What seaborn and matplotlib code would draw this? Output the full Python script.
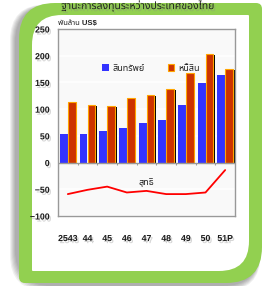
import numpy as np
import pandas as pd
import matplotlib
matplotlib.use('Agg')
import matplotlib.pyplot as plt
import matplotlib.transforms as mtransforms
import matplotlib.patheffects as pe
from matplotlib.patches import FancyBboxPatch, Rectangle, Patch
import seaborn as sns

# values (billion US$)
years = ['2543', '44', '45', '46', '47', '48', '49', '50', '51P']
assets = [54, 54, 59, 64, 74, 79, 107, 149, 163]
liabilities = [114, 107, 105, 120, 127, 138, 167, 204, 176]
net = [-59, -51, -45, -56, -53, -59, -59, -56, -14]
series_names = ['สินทรัพย์', 'หนี้สิน']

BLUE = '#3333FF'
RED = '#CC3300'
EDGE = '#FFA500'
GREEN = '#92D050'
GRAY = '#999999'

sns.set_theme(style='white')
plt.rcParams['font.family'] = ['Liberation Sans', 'Noto Sans Thai', 'DejaVu Sans']

df = pd.DataFrame({
    'year': years * 2,
    'series': [series_names[0]] * len(years) + [series_names[1]] * len(years),
    'value': assets + liabilities,
})

fig = plt.figure(figsize=(2.71, 2.86), dpi=100)
fig.patch.set_facecolor('white')

# background frame, drawn in pixel units
bg = fig.add_axes([0, 0, 1, 1])
bg.set_xlim(0, 271)
bg.set_ylim(286, 0)
bg.axis('off')


def box(x0, y0, x1, y1, r, color, z, alpha=1.0):
    bg.add_patch(FancyBboxPatch((x0, y0), x1 - x0, y1 - y0,
                                boxstyle=f'round,pad=0,rounding_size={r}',
                                fc=color, ec='none', zorder=z, alpha=alpha))


# soft shadow of the green frame
for k in range(6):
    box(19 - 4 - k, 3 + 3 - k * 0.3, 262 - 3 + k * 0.3, 283 + 3 + k, 36, '#000000', 0, 0.06)
# green frame: big corners top-left / bottom-right, small ones elsewhere
box(19, 3, 262, 283, 36, GREEN, 1)
box(200, 3, 262, 60, 6, GREEN, 1)
box(19, 220, 80, 283, 6, GREEN, 1)
# white inner panel
box(32, 15, 249, 271, 30, 'white', 2)
box(190, 15, 249, 60, 1, 'white', 2)
box(32, 220, 90, 271, 1, 'white', 2)

shadow = [pe.withSimplePatchShadow(offset=(1.2, -1.5), shadow_rgbFace='#888888', alpha=0.35)]

fig.text(138 / 271, 1 - 6 / 286, 'ฐานะการลงทุนระหว่างประเทศของไทย',
         ha='center', va='center', fontsize=7.5, fontweight='bold', color='#222222',
         path_effects=shadow)
fig.text(58 / 271, 1 - 24 / 286, 'พันล้าน US$', ha='left', va='center',
         fontsize=5.5, fontweight='bold', color='#222222')

ax = fig.add_axes([58 / 271, 1 - 216 / 286, 177 / 271, 187 / 286])
ax.set_facecolor('#f9f9f9')
ax.set_axisbelow(True)

sns.barplot(data=df, x='year', y='value', hue='series', order=years,
            hue_order=series_names, palette=[BLUE, RED], saturation=1,
            width=0.8, legend=False, ax=ax)

for bar in ax.containers[0]:
    bar.set_linewidth(0)
shadow_tr = mtransforms.offset_copy(ax.transData, fig=fig, x=1.5, y=-1.0, units='dots')
for bar in ax.containers[1]:
    bar.set_edgecolor(EDGE)
    bar.set_linewidth(0.8)
    bar.set_zorder(2)
    ax.add_patch(Rectangle(bar.get_xy(), bar.get_width(), bar.get_height(),
                           transform=shadow_tr, fc='black', ec='none', zorder=1.5))

sns.lineplot(x=np.arange(len(years)), y=net, color='#FF0000', lw=1.3, ax=ax, zorder=3)

ax.axhline(0, color=GRAY, lw=1, zorder=2.5)
ax.vlines(np.arange(1, len(years)) - 0.5, -5, 0, color=GRAY, lw=0.8, zorder=2.5)

ax.set_xlim(-0.5, len(years) - 0.5)
ax.set_ylim(-100, 250)
ax.set_yticks(np.arange(-100, 251, 50))
ax.set_xticks(np.arange(len(years)))
ax.set_xticklabels(years)
ax.set_xlabel('')
ax.set_ylabel('')
ax.yaxis.grid(True, color='white', lw=1.2)
ax.xaxis.grid(False)
for s in ax.spines.values():
    s.set_color(GRAY)
    s.set_linewidth(1)
ax.tick_params(axis='y', direction='in', length=3, color=GRAY, pad=6,
               labelsize=6.3, labelcolor='#1a1a1a')
ax.tick_params(axis='x', length=0, pad=13, labelsize=6.3, labelcolor='#1a1a1a')
for lab in ax.get_xticklabels() + ax.get_yticklabels():
    lab.set_fontweight('bold')
    lab.set_path_effects(shadow)

ax.text(4, -37, 'สุทธิ', ha='center', va='center', fontsize=6.5, color='#222222')

handles = [Patch(fc=BLUE, ec='none'), Patch(fc=RED, ec=EDGE, lw=0.8)]
ax.legend(handles, series_names, ncol=2, frameon=False, loc='center left',
          bbox_to_anchor=(0.25, 0.79), fontsize=6.5, handlelength=0.7,
          handleheight=0.7, handletextpad=0.4, columnspacing=2.6,
          borderpad=0, borderaxespad=0)

fig.savefig('out.png', dpi=100, facecolor='white')
